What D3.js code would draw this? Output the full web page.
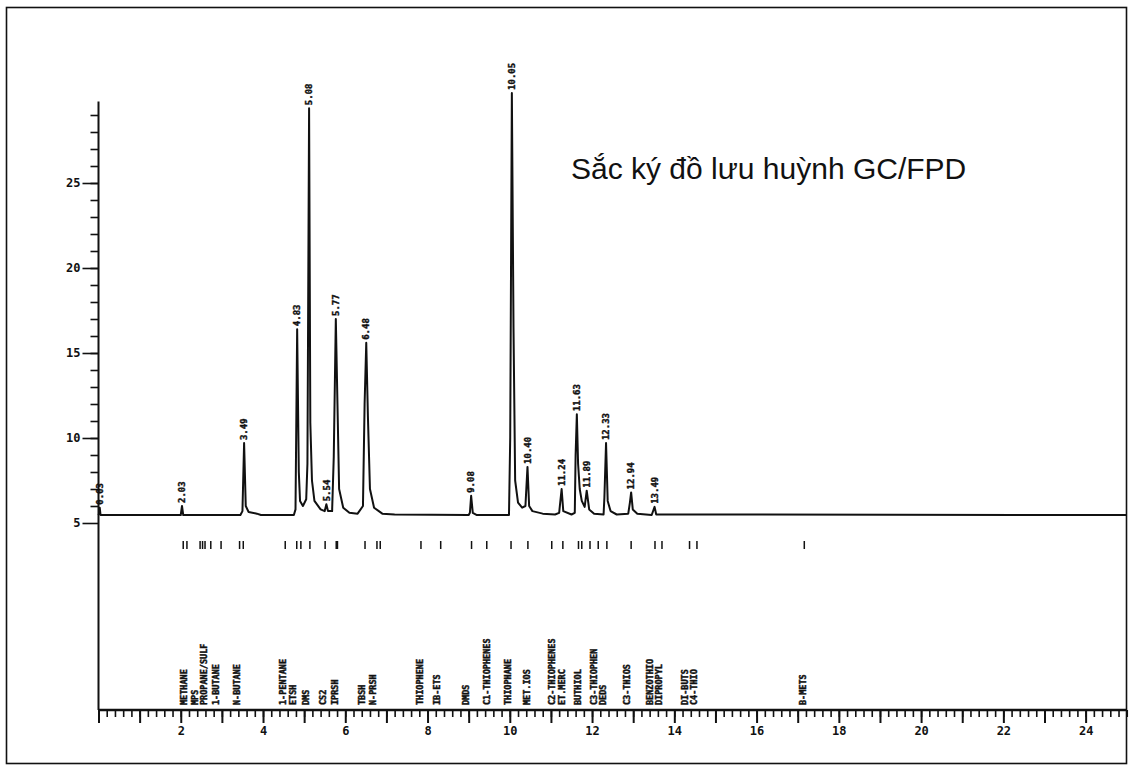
<!DOCTYPE html>
<html>
<head>
<meta charset="utf-8">
<script src="https://cdn.jsdelivr.net/npm/d3@7"></script>
<style>
  body { margin: 0; background: white; }
  .mono { font-family: "DejaVu Sans Mono", monospace; font-weight: bold; }
</style>
</head>
<body>
<div id="chart-area"></div>
<script>
// GC/FPD sulfur chromatogram (scanned printout)

// trace: [retention time (min), signal]
const trace = [
    [0, 5.47], [0.02, 5.6], [0.03, 5.9], [0.05, 5.47],
    [2.0, 5.47], [2.03, 6.0], [2.06, 5.47],
    [3.45, 5.47], [3.5, 5.7], [3.54, 9.7], [3.58, 6.0], [3.65, 5.65], [3.85, 5.55], [3.95, 5.47],
    [4.75, 5.47], [4.79, 5.8], [4.83, 16.4], [4.87, 8.0], [4.9, 6.3], [4.97, 6.0],
    [5.05, 6.4], [5.08, 8.5], [5.12, 29.4], [5.15, 10.9], [5.19, 7.5], [5.25, 6.3], [5.4, 5.8],
    [5.5, 5.7], [5.54, 6.1], [5.58, 5.7], [5.68, 5.7], [5.72, 8.9], [5.77, 17.0], [5.81, 12.0],
    [5.85, 7.0], [5.95, 5.9], [6.1, 5.6], [6.3, 5.55], [6.43, 6.0], [6.47, 12.0], [6.51, 15.6],
    [6.55, 11.3], [6.6, 7.0], [6.7, 5.9], [6.9, 5.55], [7.2, 5.5],
    [9.0, 5.47], [9.03, 5.6], [9.06, 6.6], [9.1, 5.6], [9.2, 5.47],
    [9.98, 5.47], [10.01, 10.0], [10.05, 30.3], [10.09, 16.5], [10.13, 7.5], [10.2, 6.2],
    [10.3, 5.9], [10.38, 6.0], [10.43, 8.3], [10.47, 6.0], [10.55, 5.7], [10.8, 5.55],
    [11.1, 5.5], [11.2, 5.6], [11.26, 7.0], [11.3, 5.7], [11.5, 5.5],
    [11.58, 5.6], [11.6, 9.0], [11.63, 11.4], [11.66, 8.5], [11.7, 7.0], [11.75, 6.3],
    [11.82, 5.95], [11.87, 6.9], [11.93, 5.8], [12.05, 5.55],
    [12.28, 5.5], [12.3, 6.5], [12.34, 9.7], [12.38, 6.3], [12.45, 5.7], [12.6, 5.5],
    [12.88, 5.55], [12.92, 6.2], [12.95, 6.8], [12.99, 5.8], [13.1, 5.55],
    [13.45, 5.47], [13.52, 5.95], [13.56, 5.5], [25, 5.47]
]

// labelled peaks
const peakTimes = [0.03, 2.03, 3.54, 4.83, 5.12, 5.54, 5.77, 6.51, 9.06, 10.05, 10.43, 11.26, 11.63, 11.87, 12.34, 12.95, 13.52]
const peakHeights = [5.9, 6.0, 9.7, 16.4, 29.4, 6.1, 17.0, 15.6, 6.6, 30.3, 8.3, 7.0, 11.4, 6.9, 9.7, 6.8, 5.95]
const peakLabels = ["0.03", "2.03", "3.49", "4.83", "5.08", "5.54", "5.77", "6.48", "9.08", "10.05",
    "10.40", "11.24", "11.63", "11.89", "12.33", "12.94", "13.49"]

// retention window marks under the baseline
const eventTimes = [2.06, 2.15, 2.47, 2.53, 2.59, 2.73, 2.98, 3.43, 3.52, 4.54, 4.82, 4.92, 5.14,
    5.51, 5.78, 5.81, 6.48, 6.77, 6.85, 7.84, 8.32, 9.07, 9.44, 10.03, 10.44, 11.02, 11.29,
    11.67, 11.75, 11.95, 12.15, 12.36, 12.95, 13.53, 13.70, 14.37, 14.55, 17.16]

// compound names printed above the time axis
const compoundTimes = [2.07, 2.34, 2.56, 2.86, 3.36, 4.48, 4.72, 5.04, 5.46, 5.75, 6.41, 6.68,
    7.82, 8.22, 8.93, 9.44, 9.95, 10.42, 11.03, 11.27, 11.65, 12.05, 12.27, 12.85, 13.42, 13.63,
    14.27, 14.48, 17.13]
const compoundNames = ["METHANE", "MPS", "PROPANE/SULF", "1-BUTANE", "N-BUTANE",
    "1-PENTANE", "ETSH", "DMS", "CS2", "IPRSH", "TBSH", "N-PRSH",
    "THIOPHENE", "IB-ETS", "DMDS", "C1-THIOPHENES", "THIOPHANE", "MET.IOS", "C2-THIOPHENES",
    "ET.MERC", "BUTHIOL", "C3-THIOPHEN", "DEDS", "C3-THIOS", "BENZOTHIO", "DIPROPYL",
    "DI-BUTS", "C4-THIO", "B-METS"]

const xMajor = d3.range(0, 25, 1)
const xLabelled = [2, 4, 6, 8, 10, 12, 14, 16, 18, 20, 22, 24]
const yMajor = [5, 10, 15, 20, 25]

const W = 1129, H = 772

const svg = d3.select("#chart-area").append("svg")
    .attr("width", W)
    .attr("height", H)
    .attr("style", "background: white")

// frame of the scanned page
svg.append("rect")
    .attr("x", 6.5).attr("y", 7.5)
    .attr("width", 1120).attr("height", 756)
    .attr("fill", "none")
    .attr("stroke", "#111")
    .attr("stroke-width", 1.6)

const x = d3.scaleLinear().domain([0, 25]).range([98.5, 98.5 + 25 * 41.13])
const y = d3.scaleLinear().domain([5, 30]).range([523, 98])
const axisY = 710

// X axis: minor ticks every 0.2 min, taller ones every minute
const xMinor = svg.append("g")
    .attr("transform", `translate(0, ${axisY})`)
    .call(d3.axisBottom(x).tickValues(d3.range(0, 25.01, 0.2)).tickSize(7).tickFormat(""))
xMinor.select(".domain").remove()
xMinor.selectAll("line").attr("stroke", "#111").attr("stroke-width", 1.6)

const xAx = svg.append("g")
    .attr("transform", `translate(0, ${axisY})`)
    .call(d3.axisBottom(x).tickValues(xMajor).tickSize(13)
        .tickFormat(d => xLabelled.includes(d) ? d : ""))
xAx.select(".domain").remove()
xAx.selectAll("line").attr("stroke", "#111").attr("stroke-width", 2)
xAx.selectAll("text")
    .attr("class", "mono")
    .attr("font-size", "12px")
    .attr("fill", "#111")
    .attr("y", 16)

svg.append("line")
    .attr("x1", x(0)).attr("x2", x(25))
    .attr("y1", axisY).attr("y2", axisY)
    .attr("stroke", "#111").attr("stroke-width", 2.5)

// Y axis
const yMinor = svg.append("g")
    .attr("transform", `translate(${x(0)}, 0)`)
    .call(d3.axisLeft(y).tickValues(d3.range(6, 30, 1)).tickSize(8).tickFormat(""))
yMinor.select(".domain").remove()
yMinor.selectAll("line").attr("stroke", "#111").attr("stroke-width", 1.6)

const yAx = svg.append("g")
    .attr("transform", `translate(${x(0)}, 0)`)
    .call(d3.axisLeft(y).tickValues(yMajor).tickSize(16).tickPadding(2))
yAx.select(".domain").remove()
yAx.selectAll("line").attr("stroke", "#111").attr("stroke-width", 1.6)
yAx.selectAll("text")
    .attr("class", "mono")
    .attr("font-size", "12px")
    .attr("fill", "#111")

svg.append("line")
    .attr("x1", x(0)).attr("x2", x(0))
    .attr("y1", y(29.8)).attr("y2", axisY)
    .attr("stroke", "#111").attr("stroke-width", 2)

// chromatogram trace
const line = d3.line()
    .x(d => x(d[0]))
    .y(d => y(d[1]))

svg.append("path")
    .datum(trace)
    .attr("d", line)
    .attr("fill", "none")
    .attr("stroke", "#111")
    .attr("stroke-width", 2)
    .attr("stroke-linejoin", "round")

// peak retention-time labels
svg.selectAll(".peak-label")
    .data(peakTimes)
    .join("text")
    .attr("class", "peak-label mono")
    .attr("font-size", "9px")
    .attr("fill", "#111")
    .attr("stroke", "#111")
    .attr("stroke-width", 0.4)
    .attr("transform", (d, i) => `translate(${x(d)}, ${y(peakHeights[i]) - 3}) rotate(-90)`)
    .attr("dy", "0.35em")
    .text((d, i) => peakLabels[i])

// event marks
svg.selectAll(".event")
    .data(eventTimes)
    .join("line")
    .attr("class", "event")
    .attr("x1", d => x(d)).attr("x2", d => x(d))
    .attr("y1", 541).attr("y2", 549)
    .attr("stroke", "#111")
    .attr("stroke-width", 1.5)

// compound names
svg.selectAll(".compound")
    .data(compoundTimes)
    .join("text")
    .attr("class", "compound mono")
    .attr("font-size", "8.5px")
    .attr("fill", "#111")
    .attr("stroke", "#111")
    .attr("stroke-width", 0.45)
    .attr("transform", d => `translate(${x(d) + 3}, 705) rotate(-90)`)
    .text((d, i) => compoundNames[i])

// title
svg.append("text")
    .attr("x", 571)
    .attr("y", 179)
    .attr("font-family", "Liberation Sans, Arial, sans-serif")
    .attr("font-size", "30px")
    .attr("fill", "#111")
    .text("Sắc ký đồ lưu huỳnh GC/FPD")
</script>
</body>
</html>
